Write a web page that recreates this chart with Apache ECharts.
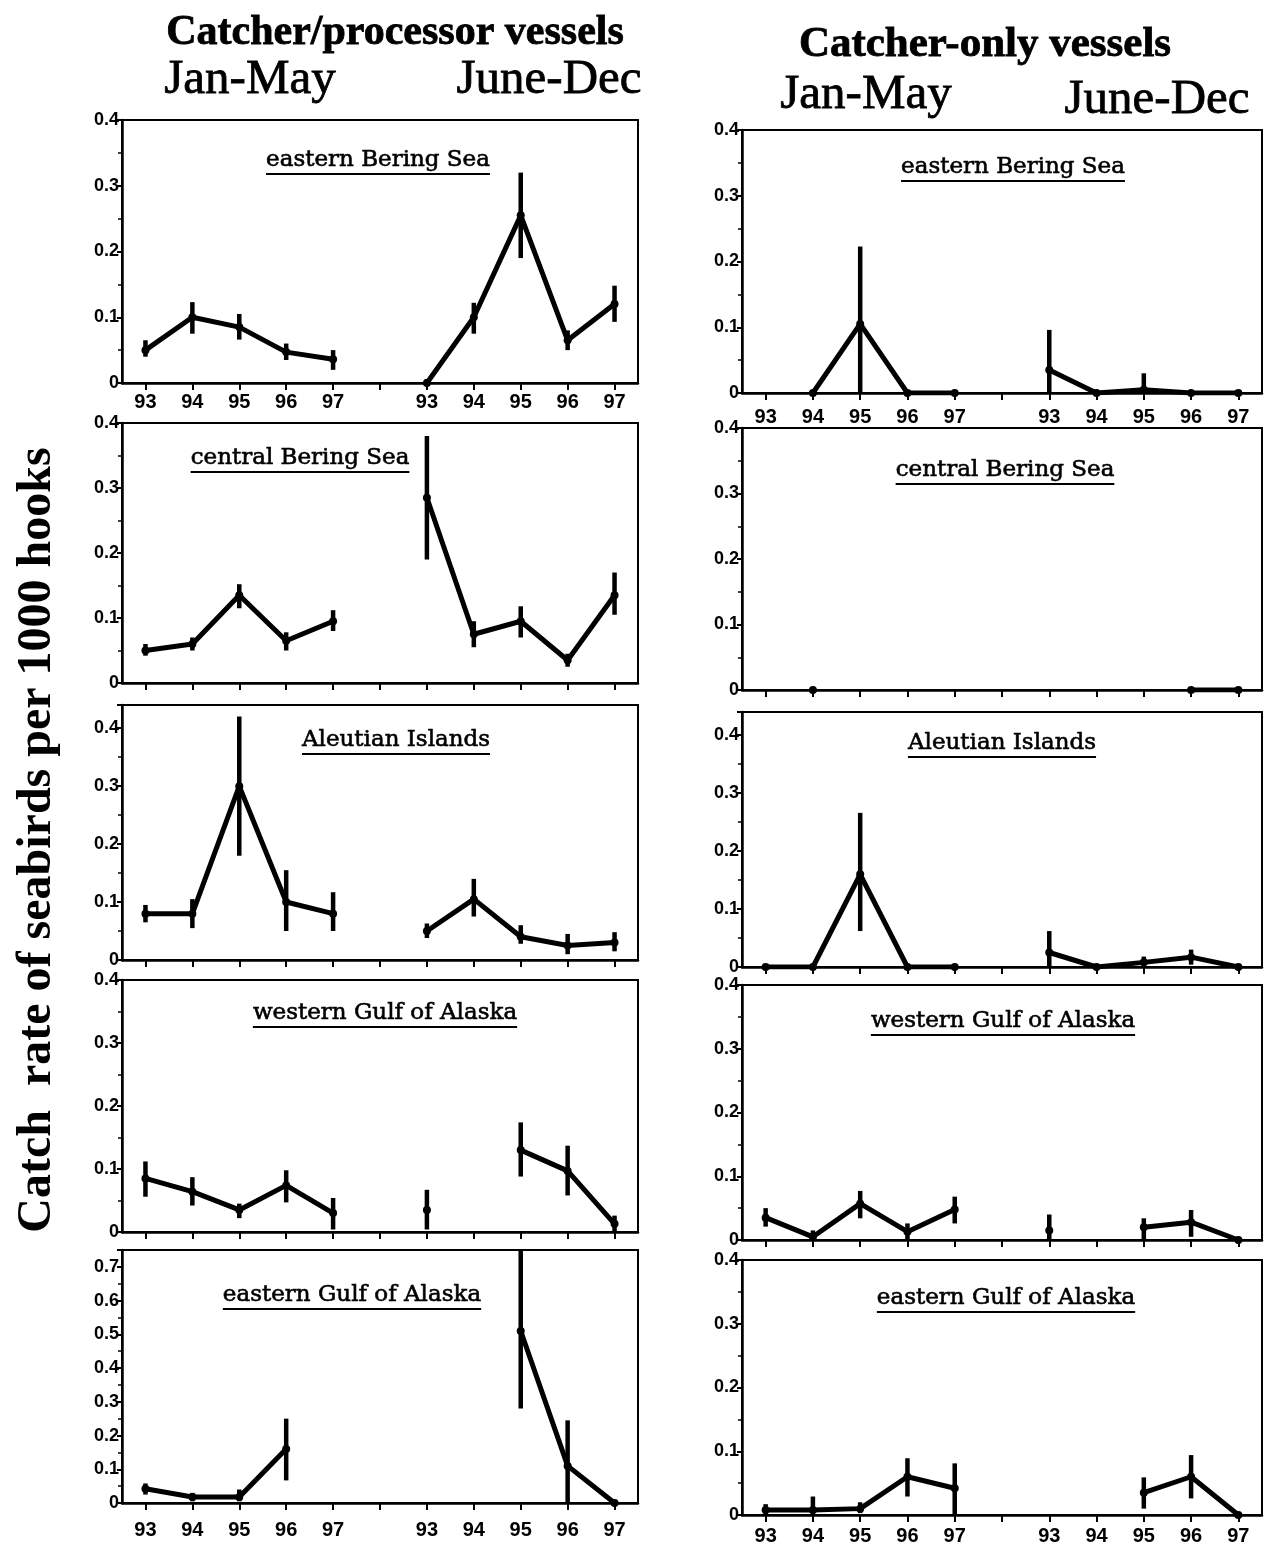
<!DOCTYPE html>
<html><head><meta charset="utf-8">
<script src="https://cdn.jsdelivr.net/npm/echarts@6/dist/echarts.min.js"></script>
<style>html,body{margin:0;padding:0;background:#fff}#c{width:1270px;height:1548px}</style>
</head><body><div id="c"></div>
<script>
// ---- tick labels / categories ----
const years = ['93','94','95','96','97','','93','94','95','96','97'];
const regionNames = ['eastern Bering Sea','central Bering Sea','Aleutian Islands','western Gulf of Alaska','eastern Gulf of Alaska'];
const yTicks = [0, 0.1, 0.2, 0.3, 0.4, 0.5, 0.6, 0.7];

// ---- Catcher/processor vessels (index 0-4 Jan-May, 5 gap, 6-10 June-Dec) ----
const cpEBSmean = [0.05, 0.10, 0.085, 0.047, 0.036, null, 0.0, 0.10, 0.255, 0.065, 0.12];
const cpEBSlow  = [0.04, 0.075, 0.066, 0.035, 0.02, null, 0.0, 0.075, 0.19, 0.05, 0.093];
const cpEBShigh = [0.065, 0.123, 0.105, 0.06, 0.05, null, 0.006, 0.122, 0.32, 0.08, 0.148];

const cpCBSmean = [0.05, 0.06, 0.135, 0.065, 0.095, null, 0.285, 0.075, 0.095, 0.035, 0.135];
const cpCBSlow  = [0.042, 0.05, 0.115, 0.05, 0.08, null, 0.19, 0.055, 0.07, 0.025, 0.105];
const cpCBShigh = [0.06, 0.07, 0.152, 0.078, 0.112, null, 0.38, 0.095, 0.118, 0.045, 0.17];

const cpAImean = [0.08, 0.08, 0.30, 0.10, 0.08, null, 0.05, 0.105, 0.04, 0.025, 0.03];
const cpAIlow  = [0.065, 0.055, 0.18, 0.05, 0.05, null, 0.038, 0.075, 0.028, 0.01, 0.015];
const cpAIhigh = [0.095, 0.105, 0.42, 0.155, 0.117, null, 0.063, 0.14, 0.06, 0.045, 0.048];

const cpWGOAmean = [0.085, 0.064, 0.035, 0.074, 0.03, null, 0.035, null, 0.13, 0.097, 0.013];
const cpWGOAlow  = [0.056, 0.042, 0.022, 0.047, 0.004, null, 0.004, null, 0.088, 0.058, 0.0];
const cpWGOAhigh = [0.112, 0.087, 0.045, 0.098, 0.054, null, 0.067, null, 0.174, 0.137, 0.026];

const cpEGOAmean = [0.042, 0.018, 0.018, 0.16, null, null, null, null, 0.51, 0.11, 0.0];
const cpEGOAlow  = [0.025, 0.005, 0.005, 0.067, null, null, null, null, 0.28, 0.0, 0.0];
const cpEGOAhigh = [0.058, 0.03, 0.04, 0.25, null, null, null, null, 0.75, 0.245, 0.005];

// ---- Catcher-only vessels ----
const coEBSmean = [null, 0.0, 0.105, 0.0, 0.0, null, 0.035, 0.0, 0.005, 0.0, 0.0];
const coEBSlow  = [null, 0.0, 0.0, 0.0, 0.0, null, 0.0, 0.0, 0.0, 0.0, 0.0];
const coEBShigh = [null, 0.0, 0.223, 0.0, 0.0, null, 0.096, 0.0, 0.03, 0.0, 0.0];

const coCBSmean = [null, 0.0, null, null, null, null, null, null, null, 0.0, 0.0];
const coCBSlow  = [null, 0.0, null, null, null, null, null, null, null, 0.0, 0.0];
const coCBShigh = [null, 0.0, null, null, null, null, null, null, null, 0.0, 0.0];

const coAImean = [0.0, 0.0, 0.16, 0.0, 0.0, null, 0.025, 0.0, 0.008, 0.017, 0.0];
const coAIlow  = [0.0, 0.0, 0.062, 0.0, 0.0, null, 0.0, 0.0, 0.0, 0.004, 0.0];
const coAIhigh = [0.0, 0.0, 0.266, 0.0, 0.0, null, 0.062, 0.0, 0.018, 0.03, 0.0];

const coWGOAmean = [0.035, 0.005, 0.057, 0.013, 0.048, null, 0.015, null, 0.02, 0.028, 0.0];
const coWGOAlow  = [0.021, 0.0, 0.034, 0.0, 0.026, null, 0.0, null, 0.0, 0.005, 0.0];
const coWGOAhigh = [0.05, 0.015, 0.077, 0.026, 0.068, null, 0.04, null, 0.034, 0.047, 0.0];

const coEGOAmean = [0.008, 0.008, 0.01, 0.06, 0.042, null, null, null, 0.035, 0.06, 0.0];
const coEGOAlow  = [0.0, 0.0, 0.003, 0.029, 0.0, null, null, null, 0.01, 0.026, 0.0];
const coEGOAhigh = [0.017, 0.029, 0.02, 0.089, 0.081, null, null, null, 0.059, 0.094, 0.0];

// ---- layout (pixels) ----
const panels = [
  {mean:cpEBSmean, low:cpEBSlow, high:cpEBShigh, max:0.4, left:122, top:120, width:516, height:263, labels:true, lm:9, title:0, tx:378, ty:160},
  {mean:cpCBSmean, low:cpCBSlow, high:cpCBShigh, max:0.4, left:122, top:423, width:516, height:260, labels:false, lm:8, title:1, tx:300, ty:458},
  {mean:cpAImean, low:cpAIlow, high:cpAIhigh, max:0.44, left:122, top:705, width:516, height:255, labels:false, lm:8, title:2, tx:396, ty:740},
  {mean:cpWGOAmean, low:cpWGOAlow, high:cpWGOAhigh, max:0.4, left:122, top:980, width:516, height:252, labels:false, lm:8, title:3, tx:385, ty:1013},
  {mean:cpEGOAmean, low:cpEGOAlow, high:cpEGOAhigh, max:0.75, left:122, top:1250, width:516, height:253, labels:true, lm:17, title:4, tx:352, ty:1295},
  {mean:coEBSmean, low:coEBSlow, high:coEBShigh, max:0.4, left:742, top:130, width:520, height:263, labels:true, lm:14, title:0, tx:1013, ty:167},
  {mean:coCBSmean, low:coCBSlow, high:coCBShigh, max:0.4, left:742, top:428, width:520, height:262, labels:false, lm:8, title:1, tx:1005, ty:470},
  {mean:coAImean, low:coAIlow, high:coAIhigh, max:0.44, left:742, top:712, width:520, height:255, labels:false, lm:8, title:2, tx:1002, ty:743},
  {mean:coWGOAmean, low:coWGOAlow, high:coWGOAhigh, max:0.4, left:742, top:985, width:520, height:255, labels:false, lm:8, title:3, tx:1003, ty:1021},
  {mean:coEGOAmean, low:coEGOAlow, high:coEGOAhigh, max:0.4, left:742, top:1260, width:520, height:255, labels:true, lm:11, title:4, tx:1006, ty:1298}
];

const chart = echarts.init(document.getElementById('c'), null, {renderer:'canvas'});
const grid = [], xAxis = [], yAxis = [], series = [], graphic = [];
const tickFont = 'Liberation Sans';

const measure = (() => {
  const ctx = document.createElement('canvas').getContext('2d');
  return (text, font) => { ctx.font = font; return ctx.measureText(text).width; };
})();

function errRender(params, api) {
  const x = api.value(0), lo = api.value(1), hi = api.value(2);
  const p1 = api.coord([x, lo]), p2 = api.coord([x, hi]);
  return {type:'line', shape:{x1:p1[0], y1:p1[1], x2:p2[0], y2:p2[1]},
          style:{stroke:'#000', lineWidth:4.5}};
}

panels.forEach((p, k) => {
  grid.push({left:p.left, top:p.top, width:p.width, height:p.height, show:true,
             borderColor:'#000', borderWidth:2, backgroundColor:'transparent', containLabel:false});
  xAxis.push({type:'category', gridIndex:k, data:years, boundaryGap:true,
    axisLine:{show:true, onZero:false, lineStyle:{color:'#000', width:2.5}},
    axisTick:{show:true, alignWithLabel:true, interval:0, length:7, lineStyle:{color:'#000', width:2}},
    axisLabel:{show:p.labels, interval:0, color:'#000', fontWeight:'bold', fontSize:20,
               fontFamily:tickFont, margin:p.lm},
    splitLine:{show:false}});
  yAxis.push({type:'value', gridIndex:k, min:0, max:p.max, interval:0.1,
    axisLine:{show:true, lineStyle:{color:'#000', width:2.5}},
    axisTick:{show:true, length:5, lineStyle:{color:'#000', width:2}},
    minorTick:{show:true, splitNumber:2, length:4, lineStyle:{color:'#000', width:1.5}},
    splitLine:{show:false},
    axisLabel:{color:'#000', fontWeight:'bold', fontSize:18, fontFamily:tickFont, margin:3,
      showMaxLabel: yTicks.some(t => Math.abs(t - p.max) < 1e-9),
      formatter: v => (Math.abs(v) < 1e-9 ? '0' : v.toFixed(1))}});
  series.push({type:'line', xAxisIndex:k, yAxisIndex:k, data:p.mean, connectNulls:false,
    symbol:'circle', symbolSize:8, showSymbol:true, showAllSymbol:true,
    lineStyle:{color:'#000', width:5}, itemStyle:{color:'#000'}, animation:false, z:3});
  const err = [];
  p.mean.forEach((m, i) => {
    if (p.low[i] != null && p.high[i] != null && p.high[i] > p.low[i]) err.push([i, p.low[i], p.high[i]]);
  });
  series.push({type:'custom', xAxisIndex:k, yAxisIndex:k, data:err, renderItem:errRender,
    encode:{x:0, y:[1,2]}, clip:true, animation:false, z:4});
  // panel title with underline
  const tFont = '23px "DejaVu Serif"';
  const txt = regionNames[p.title];
  const w = measure(txt, tFont);
  graphic.push({type:'text', x:p.tx, y:p.ty, style:{text:txt, font:tFont, fill:'#000',
    stroke:'#000', lineWidth:0.6, textAlign:'center', textVerticalAlign:'middle'}, z:10});
  graphic.push({type:'line', x:p.tx, y:p.ty + 14, shape:{x1:-w/2, y1:0, x2:w/2, y2:0},
    style:{stroke:'#000', lineWidth:2}, z:10});
});

// headers
const hBold = 'bold 42px "Liberation Serif"';
const hReg = '49px "Liberation Serif"';
const hdr = (text, x, y, font) => graphic.push({type:'text', x, y,
  style:{text, font, fill:'#000', stroke:'#000', lineWidth:0.8, textAlign:'center', textVerticalAlign:'middle'}});
hdr('Catcher/processor vessels', 395, 33, hBold);
hdr('Jan-May', 250, 80, hReg);
hdr('June-Dec', 549, 80, hReg);
hdr('Catcher-only vessels', 985, 45, 'bold 43px "Liberation Serif"');
hdr('Jan-May', 866, 95, hReg);
hdr('June-Dec', 1157, 100, hReg);
// y-axis label
graphic.push({type:'text', x:38, y:840, rotation:Math.PI/2,
  style:{text:'Catch  rate of seabirds per 1000 hooks', font:'bold 48px "Liberation Serif"', fill:'#000',
         textAlign:'center', textVerticalAlign:'middle'}});

chart.setOption({animation:false, backgroundColor:'#fff', grid, xAxis, yAxis, series, graphic});
</script>
</body></html>
